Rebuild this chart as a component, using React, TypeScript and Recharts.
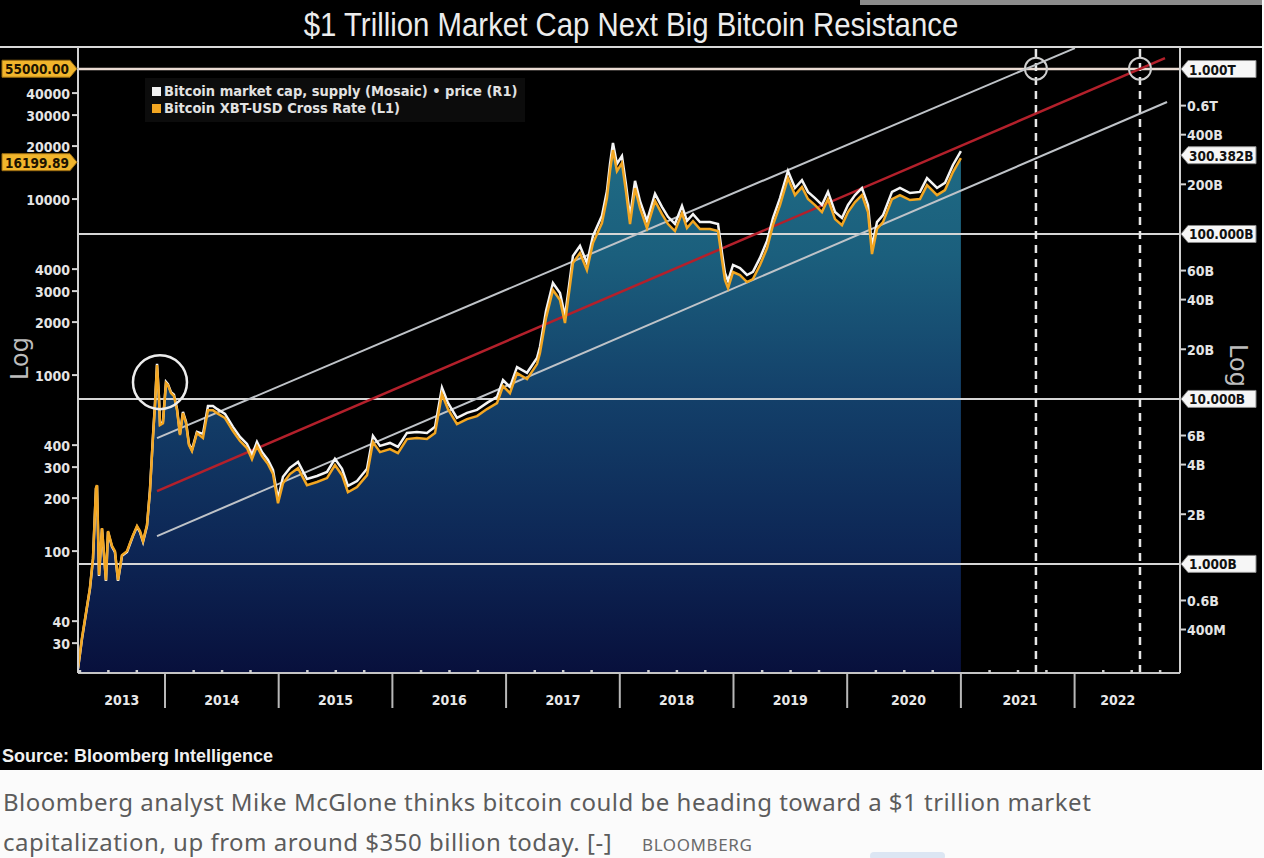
import React from 'react';
import { ComposedChart, Area, Line, XAxis, YAxis, ReferenceLine, ReferenceDot } from 'recharts';

// ---- data ----
const dates = [
  2013.235, 2013.270, 2013.305, 2013.340, 2013.367, 2013.393, 2013.402, 2013.420, 2013.446, 2013.481,
  2013.499, 2013.534, 2013.560, 2013.587, 2013.622, 2013.666, 2013.692, 2013.719, 2013.754, 2013.780,
  2013.807, 2013.842, 2013.868, 2013.894, 2013.912, 2013.930, 2013.947, 2013.956, 2013.982, 2014.009,
  2014.026, 2014.053, 2014.079, 2014.106, 2014.132, 2014.158, 2014.185, 2014.211, 2014.237, 2014.281,
  2014.334, 2014.378, 2014.422, 2014.457, 2014.528, 2014.598, 2014.660, 2014.721, 2014.765, 2014.809,
  2014.853, 2014.906, 2014.950, 2014.994, 2015.038, 2015.099, 2015.170, 2015.249, 2015.337, 2015.425,
  2015.495, 2015.557, 2015.609, 2015.689, 2015.777, 2015.829, 2015.891, 2015.979, 2016.049, 2016.128,
  2016.216, 2016.304, 2016.375, 2016.436, 2016.489, 2016.568, 2016.656, 2016.744, 2016.832, 2016.920,
  2016.973, 2017.034, 2017.096, 2017.184, 2017.272, 2017.298, 2017.351, 2017.412, 2017.474, 2017.518,
  2017.588, 2017.650, 2017.711, 2017.764, 2017.843, 2017.887, 2017.914, 2017.940, 2017.975, 2018.019,
  2018.054, 2018.090, 2018.134, 2018.178, 2018.239, 2018.310, 2018.371, 2018.424, 2018.485, 2018.547,
  2018.591, 2018.644, 2018.705, 2018.793, 2018.864, 2018.899, 2018.925, 2018.952, 2018.996, 2019.057,
  2019.119, 2019.171, 2019.233, 2019.295, 2019.347, 2019.409, 2019.479, 2019.541, 2019.602, 2019.655,
  2019.717, 2019.778, 2019.831, 2019.893, 2019.954, 2020.007, 2020.069, 2020.130, 2020.183, 2020.218,
  2020.262, 2020.315, 2020.394, 2020.464, 2020.552, 2020.640, 2020.702, 2020.790, 2020.860, 2020.930,
  2021.000,
];

// Bitcoin XBT-USD cross rate (L1), USD
const btcPrice = [
  21.6, 32.1, 44.5, 61.6, 91.2, 228, 237, 73.1, 135, 68.4,
  130, 107, 100, 68.4, 94.9, 100, 111, 123, 139, 130,
  114, 141, 219, 439, 676, 1140, 740, 520, 533, 901,
  877, 790, 760, 632, 456, 608, 533, 400, 370, 468,
  439, 632, 632, 608, 570, 481, 422, 385, 333, 395,
  347, 312, 274, 187, 243, 274, 296, 237, 247, 260,
  308, 270, 216, 231, 270, 416, 365, 380, 360, 433,
  439, 433, 468, 780, 641, 527, 562, 585, 641, 693,
  866, 790, 1026, 949, 1155, 1334, 2108, 3041, 2668, 1974,
  4329, 4933, 3951, 5623, 7305, 10130, 14420, 18980, 14420, 16010,
  11100, 7210, 11550, 8890, 6840, 9750, 8220, 7210, 6580, 8320,
  6840, 7500, 6760, 6760, 6580, 4500, 3467, 3121, 3849, 3700,
  3377, 3510, 4217, 5268, 7114, 9247, 13150, 10540, 11700, 10000,
  9247, 8440, 10000, 7695, 7114, 8440, 9616, 10540, 8440, 4870,
  6760, 7400, 10000, 10540, 9870, 10000, 12010, 10540, 11250, 14230,
  17100,
];

// Bitcoin market cap (R1), billions USD
const marketCapBn = [
  0.231, 0.351, 0.498, 0.706, 1.072, 2.85, 2.97, 0.846, 1.63, 0.789,
  1.56, 1.27, 1.18, 0.789, 1.12, 1.18, 1.32, 1.48, 1.68, 1.56,
  1.36, 1.70, 2.81, 5.89, 9.33, 16.3, 10.3, 7.05, 7.26, 12.7,
  12.3, 11.0, 10.6, 8.70, 6.14, 8.34, 7.26, 5.34, 4.91, 6.31,
  6.14, 9.07, 9.07, 8.70, 8.11, 6.77, 5.89, 5.34, 4.58, 5.49,
  4.77, 4.27, 3.71, 2.48, 3.37, 3.82, 4.15, 3.27, 3.41, 3.61,
  4.33, 3.77, 2.97, 3.18, 3.77, 5.97, 5.19, 5.41, 5.12, 6.22,
  6.31, 6.22, 6.77, 11.7, 9.46, 7.67, 8.23, 8.58, 9.46, 10.3,
  13.0, 11.8, 15.6, 14.4, 17.7, 20.7, 34.1, 50.5, 43.9, 31.8,
  73.6, 84.6, 66.7, 97.2, 129, 182, 266, 356, 266, 297,
  201, 127, 210, 158, 120, 175, 146, 127, 115, 148,
  120, 132, 118, 118, 115, 76.7, 58.0, 51.9, 64.9, 62.2,
  56.4, 58.9, 71.6, 90.7, 125, 165, 241, 190, 212, 180,
  165, 150, 180, 136, 125, 150, 172, 190, 150, 83.4,
  118, 130, 180, 190, 177, 180, 218, 190, 204, 262,
  318,
];

const leftTicks = [55000, 40000, 30000, 20000, 16199.89, 10000, 4000, 3000, 2000, 1000, 400, 300, 200, 100, 40, 30];
const leftTickLabels = ['55000.00', '40000', '30000', '20000', '16199.89', '10000', '4000', '3000', '2000', '1000', '400', '300', '200', '100', '40', '30'];
const leftTagged = ['55000.00', '16199.89'];

const rightTicks = [1e12, 6e11, 4e11, 3.00382e11, 2e11, 1e11, 6e10, 4e10, 2e10, 1e10, 6e9, 4e9, 2e9, 1e9, 6e8, 4e8];
const rightTickLabels = ['1.000T', '0.6T', '400B', '300.382B', '200B', '100.000B', '60B', '40B', '20B', '10.000B', '6B', '4B', '2B', '1.000B', '0.6B', '400M'];
const rightTagged = ['1.000T', '300.382B', '100.000B', '10.000B', '1.000B'];

const yearLabels = ['2013', '2014', '2015', '2016', '2017', '2018', '2019', '2020', '2021', '2022'];
const yearLabelAt = [2013.62, 2014.5, 2015.5, 2016.5, 2017.5, 2018.5, 2019.5, 2020.54, 2021.52, 2022.38];

const capLevels = [1e12, 1e11, 1e10, 1e9];
const projectionDates = [2021.66, 2022.575];
const targetPrice = 55000;
const channelMid = [{ t: 2013.93, v: 219 }, { t: 2022.795, v: 63200 }];
const channelUpper = [{ t: 2013.93, v: 438 }, { t: 2022.003, v: 72100 }];
const channelLower = [{ t: 2013.93, v: 121.6 }, { t: 2022.813, v: 35600 }];
const peak2013 = { t: 2013.956, v: 912 };

const xDomain = [2013.235, 2022.927];
const leftDomain = [20.3, 73100];
const rightDomain = [2.18e8, 1.36e12];

const rows = dates.map((t, i) => ({ t, price: btcPrice[i], cap: marketCapBn[i] * 1e9 }));

const quarterTicks: number[] = [];
for (let y = 2013; y <= 2022; y++) {
  for (let q = 0; q < 4; q++) {
    const v = y + q / 4;
    if (v >= xDomain[0] && v <= xDomain[1]) quarterTicks.push(v);
  }
}
const xTicks = Array.from(new Set([...quarterTicks, ...yearLabelAt])).sort((a, b) => a - b);

const AX_FONT = "'DejaVu Sans Condensed', 'Liberation Sans Narrow', 'DejaVu Sans', sans-serif";

function LeftTick(props: any) {
  const { x, y, payload } = props;
  const i = leftTicks.indexOf(payload.value);
  const label = i >= 0 ? leftTickLabels[i] : String(payload.value);
  if (leftTagged.includes(label)) {
    const x0 = 2;
    const x1 = x - 8;
    const h = 8.5;
    return (
      <g>
        <polygon
          points={`${x0},${y - h} ${x1},${y - h} ${x - 1},${y} ${x1},${y + h} ${x0},${y + h}`}
          fill="#f1b52c"
          stroke="#9a6c10"
          strokeWidth={1}
        />
        <text x={(x0 + x1) / 2 + 1} y={y + 0.5} textAnchor="middle" dominantBaseline="central"
          fontSize={13.5} fontWeight={700} fill="#1c1300" fontFamily={AX_FONT}>{label}</text>
      </g>
    );
  }
  return (
    <g>
      <line x1={x - 6} y1={y} x2={x} y2={y} stroke="#d4d4d4" strokeWidth={2} />
      <text x={x - 8} y={y + 0.5} textAnchor="end" dominantBaseline="central"
        fontSize={14} fontWeight={700} fill="#e4e4e4" fontFamily={AX_FONT}>{label}</text>
    </g>
  );
}

function RightTick(props: any) {
  const { x, y, payload } = props;
  const i = rightTicks.indexOf(payload.value);
  const label = i >= 0 ? rightTickLabels[i] : String(payload.value);
  if (rightTagged.includes(label)) {
    const h = 8.5;
    return (
      <g>
        <polygon
          points={`${x + 1},${y} ${x + 8},${y - h} ${x + 76},${y - h} ${x + 76},${y + h} ${x + 8},${y + h}`}
          fill="#f6f6f6"
          stroke="#8a8a8a"
          strokeWidth={1}
        />
        <text x={x + 9} y={y + 0.5} textAnchor="start" dominantBaseline="central"
          fontSize={13.5} fontWeight={700} fill="#111" fontFamily={AX_FONT}>{label}</text>
      </g>
    );
  }
  return (
    <g>
      <line x1={x} y1={y} x2={x + 6} y2={y} stroke="#d4d4d4" strokeWidth={2} />
      <text x={x + 7} y={y + 0.5} textAnchor="start" dominantBaseline="central"
        fontSize={14} fontWeight={700} fill="#e4e4e4" fontFamily={AX_FONT}>{label}</text>
    </g>
  );
}

function BottomTick(props: any) {
  const { x, y, payload } = props;
  const v = payload.value as number;
  const isBoundary = Math.abs(v - Math.round(v)) < 1e-6;
  const isQuarter = Math.abs(v * 4 - Math.round(v * 4)) < 1e-6;
  const li = yearLabelAt.findIndex((a) => Math.abs(a - v) < 1e-6);
  return (
    <g>
      {isBoundary && <line x1={x} y1={y + 1} x2={x} y2={y + 35} stroke="#b8b8b8" strokeWidth={2} />}
      {isQuarter && !isBoundary && <rect x={x - 1} y={y - 3} width={2.5} height={3} fill="#d0d0d0" />}
      {li >= 0 && (
        <text x={x} y={y + 27} textAnchor="middle" dominantBaseline="central"
          fontSize={14} fontWeight={700} fill="#e8e8e8" fontFamily={AX_FONT}>{yearLabels[li]}</text>
      )}
    </g>
  );
}

export default function App() {
  return (
    <div style={{ position: 'absolute', left: 0, top: 0, width: 1264, height: 858, background: '#fbfbfb', overflow: 'hidden' }}>
      <div style={{ position: 'absolute', left: 0, top: 0, width: 1262, height: 770, background: '#000' }}>
        <div style={{ position: 'absolute', left: 860, top: 0, width: 402, height: 5, background: '#8c8c8c' }} />
        <div style={{
          position: 'absolute', left: 0, top: 6, width: 1262, textAlign: 'center', color: '#ececec',
          fontFamily: "'Liberation Sans', Arial, sans-serif", fontSize: 33, lineHeight: '37px',
          transform: 'scaleX(0.89)', transformOrigin: '631px 0px',
        }}>$1 Trillion Market Cap Next Big Bitcoin Resistance</div>
        <div style={{ position: 'absolute', left: 0, top: 46, width: 1262, height: 2, background: '#d8d8d8' }} />

        <ComposedChart
          width={1262}
          height={770}
          data={rows}
          margin={{ top: 47, right: 0, bottom: 57, left: 0 }}
          style={{ position: 'absolute', left: 0, top: 0 }}
        >
          <defs>
            <linearGradient id="areaGrad" x1="0" y1="0" x2="0" y2="1">
              <stop offset="0%" stopColor="#1f6b84" />
              <stop offset="20%" stopColor="#1b5f7d" />
              <stop offset="48%" stopColor="#133f69" />
              <stop offset="76%" stopColor="#0d2655" />
              <stop offset="100%" stopColor="#08103c" />
            </linearGradient>
          </defs>
          <XAxis
            dataKey="t"
            type="number"
            domain={xDomain}
            allowDataOverflow
            ticks={xTicks}
            interval={0}
            tick={<BottomTick />}
            tickLine={false}
            tickSize={0}
            tickMargin={0}
            height={40}
            axisLine={{ stroke: '#c4c4c4', strokeWidth: 2 }}
          />
          <YAxis
            yAxisId="left"
            orientation="left"
            scale="log"
            domain={leftDomain}
            allowDataOverflow
            ticks={leftTicks}
            interval={0}
            width={78}
            tick={<LeftTick />}
            tickLine={false}
            tickSize={0}
            tickMargin={0}
            axisLine={{ stroke: '#d0d0d0', strokeWidth: 2 }}
          />
          <YAxis
            yAxisId="right"
            orientation="right"
            scale="log"
            domain={rightDomain}
            allowDataOverflow
            ticks={rightTicks}
            interval={0}
            width={82}
            tick={<RightTick />}
            tickLine={false}
            tickSize={0}
            tickMargin={0}
            axisLine={{ stroke: '#d0d0d0', strokeWidth: 2 }}
          />

          <Area
            yAxisId="left"
            dataKey="price"
            type="linear"
            stroke="none"
            fill="url(#areaGrad)"
            fillOpacity={1}
            baseValue="dataMin"
            isAnimationActive={false}
          />

          {capLevels.map((c, i) => (
            <ReferenceLine key={'cap' + i} yAxisId="right" y={c}
              stroke={i === 0 ? '#eadbd3' : '#d6d6d6'} strokeWidth={i === 0 ? 2.5 : 2} ifOverflow="hidden" />
          ))}
          {projectionDates.map((d, i) => (
            <ReferenceLine key={'proj' + i} yAxisId="left" x={d}
              stroke="#e6e6e6" strokeWidth={2.5} strokeDasharray="8 6" ifOverflow="hidden" />
          ))}
          <ReferenceLine yAxisId="left" segment={channelUpper.map((p) => ({ x: p.t, y: p.v }))}
            stroke="#bfc3c8" strokeWidth={2} ifOverflow="hidden" />
          <ReferenceLine yAxisId="left" segment={channelLower.map((p) => ({ x: p.t, y: p.v }))}
            stroke="#bfc3c8" strokeWidth={2} ifOverflow="hidden" />
          <ReferenceLine yAxisId="left" segment={channelMid.map((p) => ({ x: p.t, y: p.v }))}
            stroke="#b3202b" strokeWidth={2.5} ifOverflow="hidden" />

          <Line
            yAxisId="right"
            dataKey="cap"
            type="linear"
            stroke="#f4f4f4"
            strokeWidth={2.5}
            dot={false}
            isAnimationActive={false}
          />
          <Line
            yAxisId="left"
            dataKey="price"
            type="linear"
            stroke="#f2a622"
            strokeWidth={2.5}
            dot={false}
            isAnimationActive={false}
          />

          {projectionDates.map((d, i) => (
            <ReferenceDot key={'tgt' + i} yAxisId="left" x={d} y={targetPrice} r={11}
              fill="none" stroke="#cfcfcf" strokeWidth={2} ifOverflow="hidden" />
          ))}
          <ReferenceDot yAxisId="left" x={peak2013.t} y={peak2013.v} r={27}
            fill="none" stroke="#ececec" strokeWidth={2.5} ifOverflow="visible" />
        </ComposedChart>

        {/* legend */}
        <div style={{
          position: 'absolute', left: 145, top: 78, width: 380, height: 44, background: '#0c0c0c',
          fontFamily: AX_FONT, fontSize: 14.5, fontWeight: 700, color: '#e2e2e2', lineHeight: '17px',
          boxSizing: 'border-box', padding: '5px 0 0 7px',
        }}>
          <div style={{ display: 'flex', alignItems: 'center' }}>
            <span style={{ display: 'inline-block', width: 9, height: 9, background: '#f2f2f2', marginRight: 3 }} />
            Bitcoin market cap, supply (Mosaic) • price (R1)
          </div>
          <div style={{ display: 'flex', alignItems: 'center' }}>
            <span style={{ display: 'inline-block', width: 9, height: 9, background: '#f2a622', marginRight: 3 }} />
            Bitcoin XBT-USD Cross Rate (L1)
          </div>
        </div>

        {/* axis titles */}
        <div style={{
          position: 'absolute', left: 2, top: 348, width: 36, height: 28, color: '#bdbdbd',
          fontFamily: "'DejaVu Sans', sans-serif", fontSize: 24, lineHeight: '28px', textAlign: 'center',
          transform: 'rotate(-90deg)',
        }}>Log</div>
        <div style={{
          position: 'absolute', left: 1220, top: 348, width: 36, height: 28, color: '#bdbdbd',
          fontFamily: "'DejaVu Sans', sans-serif", fontSize: 24, lineHeight: '28px', textAlign: 'center',
          transform: 'rotate(90deg)',
        }}>Log</div>

        <div style={{
          position: 'absolute', left: 2, top: 745, color: '#f0f0f0',
          fontFamily: "'Liberation Sans', Arial, sans-serif", fontSize: 18, fontWeight: 700, lineHeight: '22px',
        }}>Source: Bloomberg Intelligence</div>
      </div>

      <div style={{
        position: 'absolute', left: 3, top: 786, color: '#5c5c5c',
        fontFamily: "'Noto Sans', 'Open Sans', sans-serif", fontSize: 24, letterSpacing: 0.5, width: 1260,
      }}>
        <div style={{ height: 40, lineHeight: '32px', whiteSpace: 'nowrap' }}>Bloomberg analyst Mike McGlone thinks bitcoin could be heading toward a $1 trillion market</div>
        <div style={{ height: 40, lineHeight: '32px', whiteSpace: 'nowrap' }}>
          capitalization, up from around $350 billion today. [-]
          <span style={{ fontSize: 17, letterSpacing: 0.6, marginLeft: 30, color: '#6a6a6a' }}>BLOOMBERG</span>
        </div>
      </div>
      <div style={{ position: 'absolute', left: 870, top: 852, width: 75, height: 8, background: '#dce6f3', borderRadius: 4 }} />
    </div>
  );
}
